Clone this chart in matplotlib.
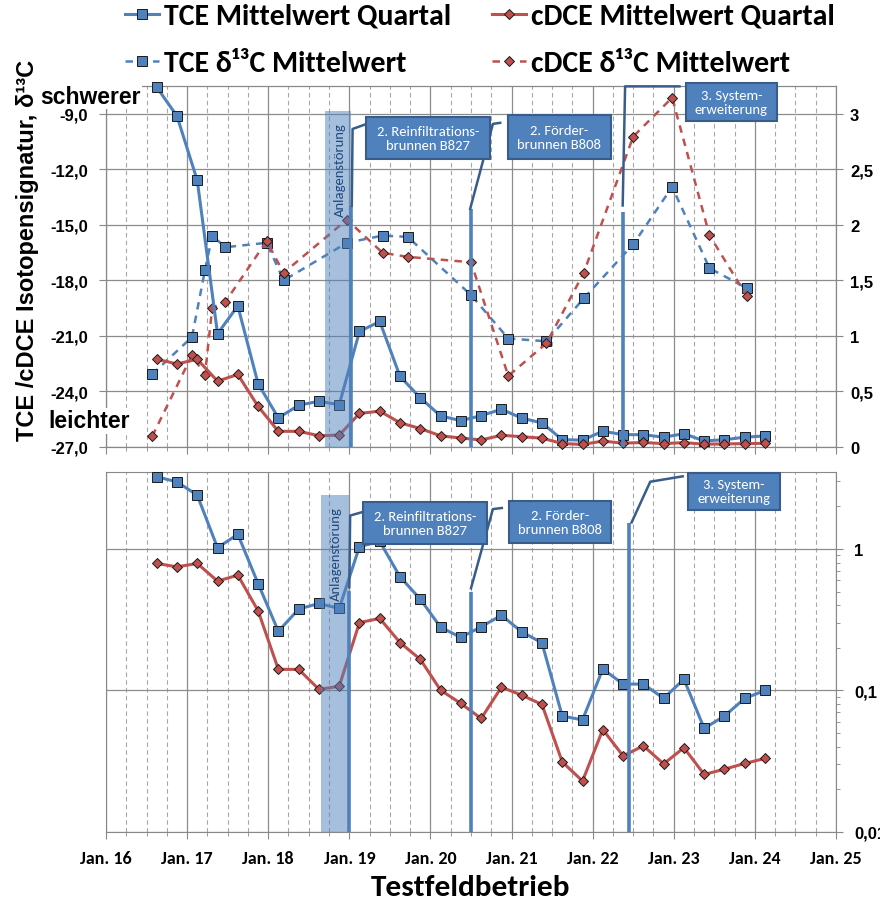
import numpy as np
import matplotlib
matplotlib.use('Agg')
import matplotlib.pyplot as plt
import matplotlib.font_manager as fm
import matplotlib.transforms as mtransforms
from matplotlib.lines import Line2D
from matplotlib.patches import Rectangle
from matplotlib.ticker import MultipleLocator, FixedLocator, FuncFormatter, NullFormatter, LogLocator

installed = {f.name for f in fm.fontManager.ttflist}
CAL = 'Carlito' if 'Carlito' in installed else 'Lato'
ARIAL = 'Liberation Sans'

# quarterly means (mg/l), decimal years
quarter_years = [2016.625, 2016.875, 2017.125, 2017.375, 2017.625, 2017.875, 2018.125, 2018.375,
                 2018.625, 2018.875, 2019.125, 2019.375, 2019.625, 2019.875, 2020.125, 2020.375,
                 2020.625, 2020.875, 2021.125, 2021.375, 2021.625, 2021.875, 2022.125, 2022.375,
                 2022.625, 2022.875, 2023.125, 2023.375, 2023.625, 2023.875, 2024.125]
tce_quartal = [3.24, 2.98, 2.40, 1.02, 1.27, 0.57, 0.262, 0.376, 0.412, 0.380, 1.04, 1.13,
               0.636, 0.442, 0.280, 0.237, 0.282, 0.340, 0.260, 0.217, 0.066, 0.062, 0.142,
               0.111, 0.111, 0.088, 0.120, 0.054, 0.066, 0.088, 0.100]
cdce_quartal = [0.790, 0.748, 0.790, 0.593, 0.653, 0.366, 0.141, 0.141, 0.102, 0.107, 0.302,
                0.323, 0.218, 0.166, 0.1005, 0.081, 0.0634, 0.1055, 0.0927, 0.0797, 0.0313,
                0.0229, 0.053, 0.0345, 0.0406, 0.0303, 0.0394, 0.0255, 0.0278, 0.0305, 0.0331]

# isotope signature (delta 13C)
iso_years = [2016.57, 2017.06, 2017.22, 2017.31, 2017.47, 2017.98, 2018.19, 2018.97, 2019.41,
             2019.72, 2020.50, 2020.96, 2021.43, 2021.89, 2022.50, 2022.98, 2023.44, 2023.90]
tce_d13c = [-23.07, -21.06, -17.45, -15.58, -16.21, -15.97, -18.00, -15.97, -15.58, -15.65,
            -18.79, -21.14, -21.29, -18.97, -16.05, -12.95, -17.34, -18.42]
cdce_d13c = [-26.42, -22.04, -23.10, -19.47, -19.17, -15.88, -17.59, -14.72, -16.51, -16.73,
             -17.02, -23.16, -21.40, -17.59, -10.23, -8.13, -15.56, -18.85]

year_ticks = list(range(2016, 2026))
year_labels = ['Jan. %02d' % (y % 100) for y in year_ticks]

BLUE = '#4F81BD'
RED = '#C0504D'
NAVY = '#1F497D'
LEADER = '#385D8A'
GRID = '#8C8C8C'
SPINE = '#888888'

solid_tce = dict(color=BLUE, lw=2.2, marker='s', ms=6.5, mfc=BLUE, mec='#1a1a1a', mew=0.7)
solid_cdce = dict(color=RED, lw=2.2, marker='D', ms=5, mfc=RED, mec='#1a1a1a', mew=0.7)
dash_tce = dict(solid_tce, lw=1.8, ls=(0, (3, 2.5)))
dash_cdce = dict(solid_cdce, lw=1.8, ls=(0, (3, 2.5)))


def comma(fmt):
    return FuncFormatter(lambda v, p: fmt(v).replace('.', ','))


def style_x(ax, labels):
    ax.set_xlim(2016, 2025)
    ax.xaxis.set_major_locator(FixedLocator(year_ticks))
    ax.xaxis.set_minor_locator(MultipleLocator(0.25))
    ax.grid(True, which='major', axis='x', color=GRID, lw=0.9)
    ax.grid(True, which='minor', axis='x', color='#A6A6A6', lw=0.8, ls=(0, (4, 3)))
    ax.tick_params(axis='x', which='major', direction='out', length=5, color=SPINE)
    ax.tick_params(axis='x', which='minor', direction='out', length=3, color=SPINE)
    if labels:
        ax.set_xticklabels(year_labels, fontfamily=CAL, fontweight='bold', fontsize=13)
        ax.tick_params(axis='x', which='major', pad=8)
    else:
        ax.set_xticklabels([])
    for s in ax.spines.values():
        s.set_color(SPINE)
    ax.set_axisbelow(True)


def events(ax, span, span_top, text_pos, items):
    tr = mtransforms.blended_transform_factory(ax.transData, ax.transAxes)
    ax.add_patch(Rectangle((span[0], 0), span[1] - span[0], span_top, transform=tr,
                           facecolor=BLUE, alpha=0.5, edgecolor='none', zorder=20, clip_on=False))
    ax.text(text_pos[0], text_pos[1], 'Anlagenstörung', transform=tr, rotation=90,
            ha='center', va='center', color=NAVY, fontfamily=CAL, fontsize=10.5, zorder=21)
    for x, top, path, box, label in items:
        ax.plot([x, x], [0, top], transform=tr, color=BLUE, lw=2.6, zorder=22,
                solid_capstyle='butt', clip_on=False)
        ax.plot([p[0] for p in path], [p[1] for p in path], transform=tr, color=LEADER,
                lw=1.8, zorder=22, clip_on=False)
        cx, cy, w, h = box
        ax.add_patch(Rectangle((cx - w / 2, cy - h / 2), w, h, transform=tr, facecolor=BLUE,
                               edgecolor=LEADER, lw=1.5, zorder=23, clip_on=False))
        ax.text(cx, cy, label, transform=tr, ha='center', va='center', color='white',
                fontfamily=CAL, fontsize=10.5, linespacing=1.2, zorder=24)


fig = plt.figure(figsize=(8.8, 9.03), dpi=100)
ax1 = fig.add_axes([106 / 880, 1 - 448 / 903, 730 / 880, 361 / 903])
ax1r = ax1.twinx()
ax2 = fig.add_axes([106 / 880, 1 - 833 / 903, 730 / 880, 360 / 903])

# top panel: isotope signature (left) and linear concentration (right)
ax1.plot(iso_years, tce_d13c, **dash_tce, zorder=3)
ax1.plot(iso_years, cdce_d13c, **dash_cdce, zorder=3)
ax1.set_ylim(-27, -7.5)
ax1.yaxis.set_major_locator(FixedLocator(np.arange(-27, -8, 3)))
ax1.yaxis.set_major_formatter(comma(lambda v: '%.1f' % v))
ax1.grid(True, which='major', axis='y', color=GRID, lw=0.9)
ax1.tick_params(axis='y', direction='out', length=5, color=SPINE, pad=8)
for t in ax1.get_yticklabels():
    t.set_fontfamily(ARIAL)
    t.set_fontweight('bold')
    t.set_fontsize(12)
style_x(ax1, False)

ax1r.plot(quarter_years, tce_quartal, **solid_tce, zorder=4, clip_on=False)
ax1r.plot(quarter_years, cdce_quartal, **solid_cdce, zorder=4, clip_on=False)
ax1r.set_ylim(0, 3.25)
ax1r.yaxis.set_major_locator(MultipleLocator(0.5))
ax1r.yaxis.set_major_formatter(comma(lambda v: '%g' % v))
ax1r.tick_params(axis='y', direction='out', length=5, color=SPINE, pad=5)
for t in ax1r.get_yticklabels():
    t.set_fontfamily(ARIAL)
    t.set_fontweight('bold')
    t.set_fontsize(12)
for s in ax1r.spines.values():
    s.set_color(SPINE)

events(ax1r, (2018.70, 2019.02), 0.931, (2018.89, 0.77), [
    (2019.02, 0.668, [(2019.03, 0.668), (2019.04, 0.881), (2019.19, 0.893)],
     (2019.97, 0.856, 1.53, 0.116), '2. Reinfiltrations-\nbrunnen B827'),
    (2020.50, 0.660, [(2020.49, 0.660), (2020.77, 0.895), (2020.86, 0.898)],
     (2021.59, 0.859, 1.27, 0.122), '2. Förder-\nbrunnen B808'),
    (2022.38, 0.651, [(2022.37, 0.669), (2022.40, 0.999), (2023.07, 0.999)],
     (2023.71, 0.956, 1.13, 0.105), '3. System-\nerweiterung'),
])

# bottom panel: log concentration
ax2.plot(quarter_years, tce_quartal, **solid_tce, zorder=4)
ax2.plot(quarter_years, cdce_quartal, **solid_cdce, zorder=4)
ax2.set_yscale('log')
ax2.set_ylim(0.01, 3.5)
ax2.yaxis.tick_right()
ax2.yaxis.set_major_locator(FixedLocator([0.01, 0.1, 1]))
ax2.yaxis.set_major_formatter(comma(lambda v: '%g' % v))
ax2.yaxis.set_minor_locator(LogLocator(base=10, subs=np.arange(2, 10)))
ax2.yaxis.set_minor_formatter(NullFormatter())
ax2.grid(True, which='major', axis='y', color=GRID, lw=0.9)
ax2.tick_params(axis='y', which='major', direction='out', length=5, color=SPINE, pad=8)
ax2.tick_params(axis='y', which='minor', direction='out', length=3, color=SPINE)
for t in ax2.get_yticklabels():
    t.set_fontfamily(ARIAL)
    t.set_fontweight('bold')
    t.set_fontsize(12)
style_x(ax2, True)

events(ax2, (2018.65, 2019.00), 0.936, (2018.84, 0.775), [
    (2018.99, 0.670, [(2019.00, 0.680), (2019.01, 0.879), (2019.15, 0.888)],
     (2019.93, 0.858, 1.53, 0.117), '2. Reinfiltrations-\nbrunnen B827'),
    (2020.50, 0.667, [(2020.50, 0.677), (2020.77, 0.897), (2020.88, 0.900)],
     (2021.60, 0.861, 1.26, 0.117), '2. Förder-\nbrunnen B808'),
    (2022.45, 0.858, [(2022.48, 0.860), (2022.71, 0.973), (2023.11, 0.988)],
     (2023.74, 0.946, 1.13, 0.103), '3. System-\nerweiterung'),
])

# axis titles and side notes
fig.text(28 / 880, 1 - 250 / 903, 'TCE /cDCE Isotopensignatur, δ¹³C', rotation=90,
         ha='center', va='center', fontfamily=ARIAL, fontweight='bold', fontsize=17)
fig.text(90 / 880, 1 - 97 / 903, 'schwerer', ha='center', va='center', fontfamily=ARIAL,
         fontweight='bold', fontsize=16.5, zorder=30,
         bbox=dict(facecolor='white', edgecolor='none', pad=1))
fig.text(89 / 880, 1 - 422 / 903, 'leichter', ha='center', va='center', fontfamily=ARIAL,
         fontweight='bold', fontsize=16.5, zorder=30,
         bbox=dict(facecolor='white', edgecolor='none', pad=1))
fig.text(470 / 880, 1 - 888 / 903, 'Testfeldbetrieb', ha='center', va='center',
         fontfamily=CAL, fontweight='bold', fontsize=22.5)

# legend, two columns
leg_font = dict(family=[CAL, 'DejaVu Sans'], weight='bold', size=21.5)
h_tce = [Line2D([], [], **solid_tce), Line2D([], [], **dash_tce)]
h_cdce = [Line2D([], [], **solid_cdce), Line2D([], [], **dash_cdce)]
for x0, hs, labels in [(125, h_tce, ['TCE Mittelwert Quartal', 'TCE δ¹³C Mittelwert']),
                       (492, h_cdce, ['cDCE Mittelwert Quartal', 'cDCE δ¹³C Mittelwert'])]:
    fig.legend(hs, labels, loc='upper left', bbox_to_anchor=(x0 / 880, 1 - 4 / 903),
               frameon=False, prop=leg_font, handlelength=1.15, handletextpad=0.15,
               labelspacing=0.72, borderpad=0, borderaxespad=0, numpoints=1)

fig.savefig('out.png', dpi=100)
